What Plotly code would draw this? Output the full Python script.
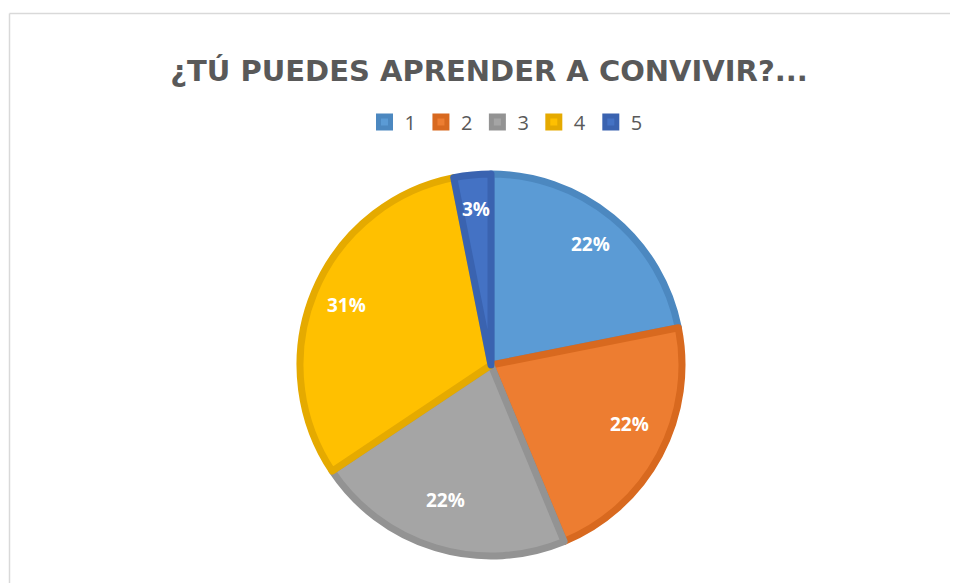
import math
import plotly.graph_objects as go

# respuestas a la pregunta (conteos: 7,7,7,10,1 -> 22/22/22/31/3 %)
categorias = ["1", "2", "3", "4", "5"]
valores = [7, 7, 7, 10, 1]
colores = ["#5B9BD5", "#ED7D31", "#A5A5A5", "#FFC000", "#4472C4"]
bordes = ["#4C88C0", "#D8691F", "#939393", "#E5AA00", "#3A63B0"]

W, H = 958, 583
OFF = 8  # margen por defecto del body de la pagina


def px(x):
    return (x - OFF) / W


def py(y):
    return 1 - (y - OFF) / H


cx, cy, R = 491, 365, 191

fig = go.Figure(go.Pie(
    labels=categorias,
    values=valores,
    sort=False,
    direction="clockwise",
    rotation=0,
    marker=dict(colors=colores, line=dict(color=bordes, width=7)),
    textinfo="none",
    domain=dict(x=[px(cx - R), px(cx + R)], y=[py(cy + R), py(cy - R)]),
    hoverinfo="label+percent",
))

# etiquetas de porcentaje, colocadas como en Excel (hacia el borde de cada sector)
total = sum(valores)
acum = 0
anots = []
for v in valores:
    ang = 2 * math.pi * (acum + v / 2) / total
    acum += v
    r = 0.82 * R
    anots.append(dict(
        x=px(cx + r * math.sin(ang)), y=py(cy - r * math.cos(ang)),
        xref="paper", yref="paper", showarrow=False,
        text=f"{round(100 * v / total)}%",
        font=dict(family="Open Sans", size=19, color="white", weight="bold"),
    ))

fig.update_layout(
    width=W, height=H,
    margin=dict(l=0, r=0, t=0, b=0),
    paper_bgcolor="white",
    title=dict(
        text="¿TÚ PUEDES APRENDER A CONVIVIR?...",
        x=px(489), xanchor="center",
        y=py(71), yanchor="middle",
        font=dict(family="DejaVu Sans", size=29, color="#595959", weight="bold"),
    ),
    legend=dict(
        orientation="h",
        x=px(506), xanchor="center",
        y=py(122), yanchor="middle",
        font=dict(family="Open Sans", size=20, color="#595959"),
        traceorder="normal",
        itemwidth=30,
    ),
    annotations=anots,
    shapes=[
        dict(type="line", xref="paper", yref="paper", x0=px(9.5), x1=1, y0=py(13.5), y1=py(13.5),
             line=dict(color="#D9D9D9", width=1.5)),
        dict(type="line", xref="paper", yref="paper", x0=px(9.5), x1=px(9.5), y0=0, y1=py(13.5),
             line=dict(color="#D9D9D9", width=1.5)),
    ],
)

fig.write_html("out.html")
